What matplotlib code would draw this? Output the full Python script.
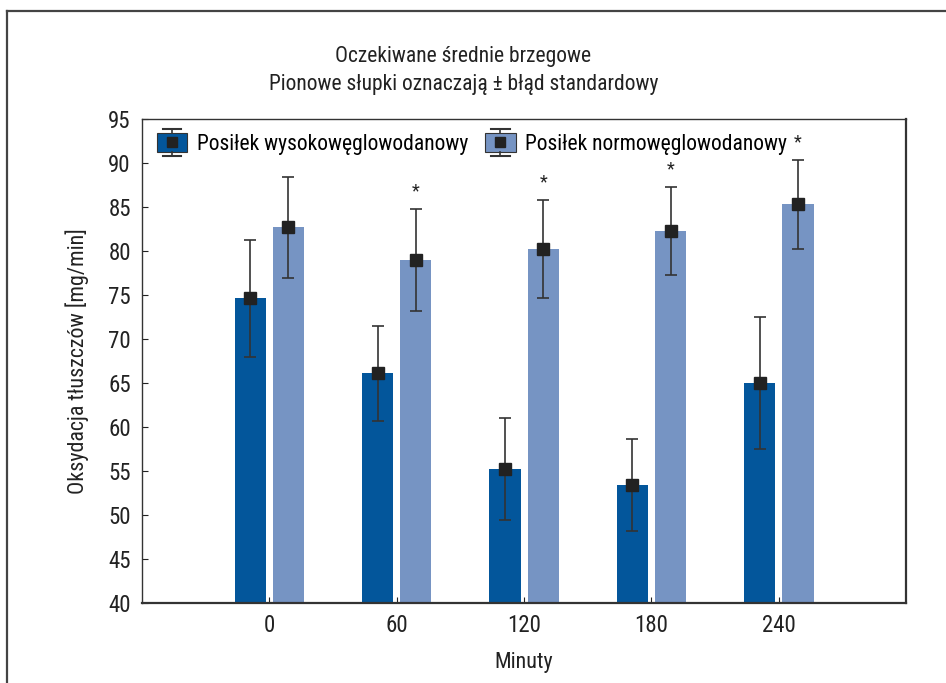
import matplotlib
matplotlib.use('Agg')
import matplotlib.pyplot as plt
import numpy as np
from matplotlib import font_manager
from matplotlib.legend_handler import HandlerBase
from matplotlib.patches import Rectangle
from matplotlib.lines import Line2D

# waska czcionka, jesli jest
nazwy = set(f.name for f in font_manager.fontManager.ttflist)
waskie = [n for n in ['Liberation Sans Narrow', 'DejaVu Sans Condensed', 'Roboto Condensed',
                      'Open Sans Condensed'] if n in nazwy]
plt.rcParams['font.family'] = waskie + ['DejaVu Sans']
plt.rcParams['font.stretch'] = 'condensed'

minuty = ['0', '60', '120', '180', '240']
wysoko = [74.6, 66.1, 55.2, 53.4, 65.0]
wysoko_se = [6.6, 5.4, 5.8, 5.2, 7.5]
normo = [82.7, 79.0, 80.2, 82.3, 85.3]
normo_se = [5.75, 5.8, 5.6, 5.0, 5.05]
gwiazdka = [False, True, True, True, True]

kol_ciemny = '#03569b'
kol_jasny = '#7694c3'


class HandlerSlupek(HandlerBase):
    def create_artists(self, legend, orig_handle, xdescent, ydescent,
                       width, height, fontsize, trans):
        kolor = orig_handle.get_facecolor()
        h = height * 1.25
        y0 = -ydescent + (height - h) / 2
        rect = Rectangle((-xdescent, y0), width, h, facecolor=kolor,
                         edgecolor='#333333', lw=0.8, transform=trans)
        cx = -xdescent + width / 2
        gora = Line2D([cx - width * 0.3, cx + width * 0.3], [y0 + h + 3, y0 + h + 3],
                      color='#333333', lw=1.5, transform=trans)
        dol = Line2D([cx - width * 0.3, cx + width * 0.3], [y0 - 3, y0 - 3],
                     color='#333333', lw=1.5, transform=trans)
        pion1 = Line2D([cx, cx], [y0 + h, y0 + h + 3], color='#333333', lw=1.2, transform=trans)
        pion2 = Line2D([cx, cx], [y0 - 3, y0], color='#333333', lw=1.2, transform=trans)
        kw = Line2D([cx], [y0 + h / 2], marker='s', markersize=7, color='#222222',
                    transform=trans)
        return [rect, gora, dol, pion1, pion2, kw]


fig = plt.figure(figsize=(9.46, 6.83), dpi=100)
ax = fig.add_axes([0.150, 0.117, 0.808, 0.709])

x = np.arange(len(minuty))
szer = 0.245
b1 = ax.bar(x - 0.15, wysoko, szer, color=kol_ciemny, zorder=1)
b2 = ax.bar(x + 0.15, normo, szer, color=kol_jasny, zorder=1)
ax.errorbar(x - 0.15, wysoko, yerr=wysoko_se, fmt='s', color='#222222', ecolor='#333333',
            markersize=8, capsize=4.5, elinewidth=1.2, capthick=1.2, zorder=3)
ax.errorbar(x + 0.15, normo, yerr=normo_se, fmt='s', color='#222222', ecolor='#333333',
            markersize=8, capsize=4.5, elinewidth=1.2, capthick=1.2, zorder=3)

for i in range(len(minuty)):
    if gwiazdka[i]:
        ax.text(x[i] + 0.15, normo[i] + normo_se[i] + 1.0, '*', ha='center', va='bottom',
                fontsize=13, color='#222222')

ax.set_xlim(-1, 5)
ax.set_ylim(40, 95)
ax.set_xticks(x)
ax.set_xticklabels(minuty)
ax.set_yticks(np.arange(40, 96, 5))
ax.tick_params(direction='in', length=4, labelsize=16.5, colors='#222222', pad=8)
for s in ax.spines.values():
    s.set_color('#333333')
    s.set_linewidth(1.0)
ax.spines['bottom'].set_linewidth(1.6)
ax.spines['right'].set_linewidth(1.6)

ax.set_xlabel('Minuty', fontsize=15.8, color='#222222', labelpad=11)
ax.set_ylabel('Oksydacja tłuszczów [mg/min]', fontsize=15.8, color='#222222', labelpad=14)

fig.text(0.49, 0.918, 'Oczekiwane średnie brzegowe', ha='center', va='center',
         fontsize=15.5, color='#222222')
fig.text(0.49, 0.877, 'Pionowe słupki oznaczają \u00b1 błąd standardowy', ha='center',
         va='center', fontsize=15.5, color='#222222')

ax.legend([b1.patches[0], b2.patches[0]],
          ['Posiłek wysokowęglowodanowy', 'Posiłek normowęglowodanowy'],
          handler_map={Rectangle: HandlerSlupek()}, ncol=2, frameon=False,
          loc='upper left', bbox_to_anchor=(0.0, 1.0), fontsize=15.5,
          handlelength=1.4, handletextpad=0.45, columnspacing=0.8, borderaxespad=0.3)

# ramka wokol rysunku
fig.add_artist(Line2D([0.0074, 0.0074], [0.0, 0.984], color='#444444', lw=1.6,
                      transform=fig.transFigure))
fig.add_artist(Line2D([0.0074, 1.0], [0.984, 0.984], color='#444444', lw=1.6,
                      transform=fig.transFigure))

fig.savefig('out.png', dpi=100)
